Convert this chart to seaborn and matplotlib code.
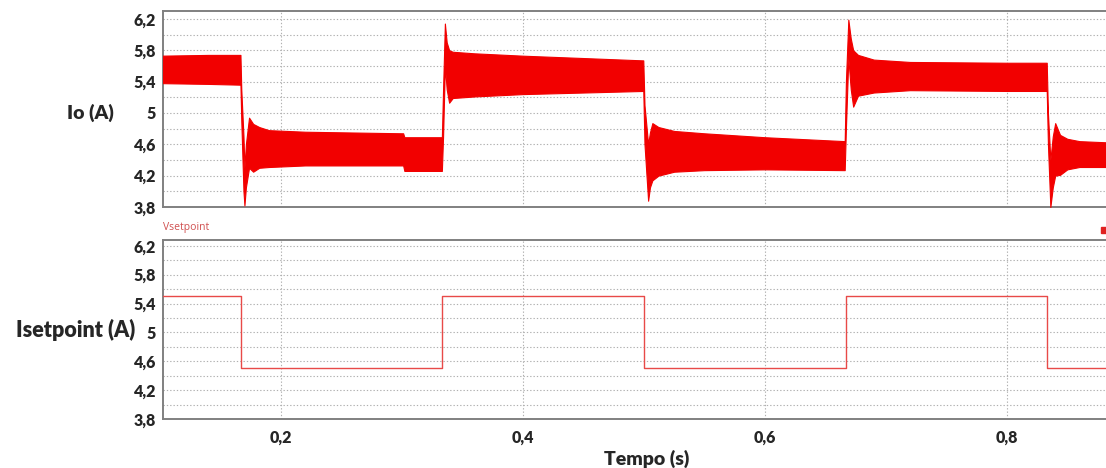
import matplotlib
matplotlib.use("Agg")
import matplotlib.pyplot as plt
import seaborn as sns
import pandas as pd

# Io ripple envelope (time, upper, lower)
io_time = [0.100, 0.140, 0.1665, 0.1672, 0.1690, 0.1698, 0.1710, 0.1736, 0.1770,
           0.1820, 0.1900, 0.2200, 0.2600, 0.3010, 0.3020, 0.3330, 0.3340, 0.3355,
           0.3370, 0.3390, 0.3420, 0.3600, 0.4000, 0.4500, 0.4995, 0.5005, 0.5035,
           0.5050, 0.5070, 0.5120, 0.5250, 0.5500, 0.6000, 0.6660, 0.6670, 0.6690,
           0.6710, 0.6730, 0.6770, 0.6900, 0.7200, 0.8000, 0.8330, 0.8340, 0.8360,
           0.8380, 0.8400, 0.8440, 0.8500, 0.8600, 0.8900]
io_upper = [5.73, 5.74, 5.74, 5.30, 4.70, 4.30, 4.60, 4.94, 4.86,
            4.82, 4.78, 4.76, 4.75, 4.74, 4.69, 4.69, 5.30, 6.14,
            5.90, 5.80, 5.78, 5.76, 5.73, 5.70, 5.67, 5.10, 4.60,
            4.75, 4.87, 4.82, 4.77, 4.74, 4.69, 4.64, 5.40, 6.19,
            5.95, 5.80, 5.74, 5.68, 5.65, 5.64, 5.64, 5.00, 4.40,
            4.70, 4.87, 4.72, 4.67, 4.64, 4.62]
io_lower = [5.38, 5.37, 5.36, 4.90, 4.00, 3.82, 4.05, 4.30, 4.25,
            4.30, 4.31, 4.33, 4.33, 4.33, 4.26, 4.26, 4.70, 5.60,
            5.30, 5.13, 5.19, 5.21, 5.24, 5.26, 5.28, 4.60, 3.88,
            4.05, 4.14, 4.20, 4.25, 4.27, 4.28, 4.27, 4.80, 5.70,
            5.30, 5.08, 5.22, 5.26, 5.29, 5.28, 5.28, 4.60, 3.80,
            4.05, 4.20, 4.21, 4.28, 4.31, 4.31]

# Current setpoint square wave
sp_time = [0.100, 0.1667, 0.3333, 0.5000, 0.6667, 0.8333, 0.8900]
sp_value = [5.5, 4.5, 5.5, 4.5, 5.5, 4.5, 4.5]

y_ticks = [3.8, 4.2, 4.6, 5.0, 5.4, 5.8, 6.2]
y_labels = ["3,8", "4,2", "4,6", "5", "5,4", "5,8", "6,2"]
y_grid = [4.0, 4.2, 4.4, 4.6, 4.8, 5.0, 5.2, 5.4, 5.6, 5.8, 6.0, 6.2]
x_ticks = [0.2, 0.4, 0.6, 0.8]
x_labels = ["0,2", "0,4", "0,6", "0,8"]

sns.set_style("white")
plt.rcParams['font.family'] = ['Lato', 'DejaVu Sans']

io = pd.DataFrame({"t": io_time, "up": io_upper, "lo": io_lower})
sp = pd.DataFrame({"t": sp_time, "v": sp_value})

fig = plt.figure(figsize=(11.06, 4.68), dpi=100)
ax1 = fig.add_axes([0.1474, 0.5577, 0.8526, 0.4188])
ax2 = fig.add_axes([0.1474, 0.1047, 0.8526, 0.3825])

red = "#f20000"
ax1.fill_between(io.t, io.lo, io.up, color=red, lw=0.8, edgecolor=red, zorder=3)
sns.lineplot(data=sp, x="t", y="v", ax=ax2, color="#e84a48", lw=1.0,
             drawstyle="steps-post", zorder=3)

xlim = (0.1025, 0.882)
for ax, ytop in [(ax1, 6.30), (ax2, 6.28)]:
    ax.set_xlim(*xlim)
    ax.set_ylim(3.8, ytop)
    ax.set_yticks(y_ticks)
    ax.set_yticklabels(y_labels, fontsize=11.5, fontweight="heavy")
    ax.set_xticks(x_ticks)
    for g in y_grid:
        ax.axhline(g, color="#b0b0b0", lw=0.8, ls=(0, (1.2, 1.8)), zorder=1)
    for g in x_ticks:
        ax.axvline(g, color="#b0b0b0", lw=0.8, ls=(0, (1.2, 1.8)), zorder=1)
    ax.tick_params(axis="y", length=0, pad=5)
    ax.tick_params(axis="x", length=0, pad=8)
    ax.set_xlabel("")
    ax.set_ylabel("")
    for side in ["left", "top", "bottom"]:
        ax.spines[side].set_color("#808080")
        ax.spines[side].set_linewidth(1.4)
    ax.spines["right"].set_visible(False)

ax1.set_xticklabels([])
ax2.set_xticklabels(x_labels, fontsize=11.5, fontweight="heavy")

fig.text(90 / 1106, 1 - 113 / 468, "Io (A)", fontsize=14, fontweight="heavy",
         ha="center", va="center")
fig.text(76 / 1106, 1 - 330 / 468, "Isetpoint (A)", fontsize=15.5, fontweight="heavy",
         ha="center", va="center")
fig.text(647 / 1106, 1 - 459 / 468, "Tempo (s)", fontsize=14, fontweight="heavy",
         ha="center", va="center")
fig.text(163 / 1106, 1 - 227 / 468, "Vsetpoint", fontsize=7.5, color="#d05050",
         ha="left", va="center", family=["Open Sans", "DejaVu Sans"])
fig.patches.append(plt.Rectangle((1101 / 1106, 1 - 233 / 468), 6 / 1106, 6 / 468,
                                 transform=fig.transFigure, color="#e02020"))

fig.savefig("out.png", dpi=100)
